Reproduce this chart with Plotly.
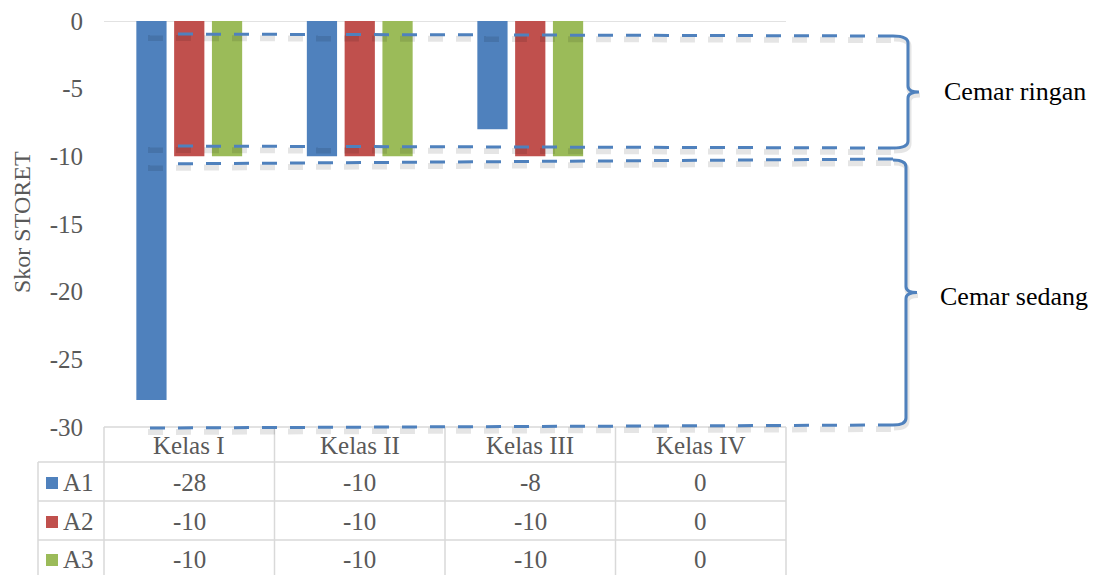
import plotly.graph_objects as go

# ---------------- data ----------------
categories = ["Kelas I", "Kelas II", "Kelas III", "Kelas IV"]
series_names = ["A1", "A2", "A3"]
a1_values = [-28, -10, -8, 0]
a2_values = [-10, -10, -10, 0]
a3_values = [-10, -10, -10, 0]
series_colors = ["#4F81BD", "#C0504D", "#9BBB59"]
y_ticks = [0, -5, -10, -15, -20, -25, -30]
band_labels = ["Cemar ringan", "Cemar sedang"]

series_values = [a1_values, a2_values, a3_values]

# ---------------- geometry helpers (pixel -> paper) ----------------
W, H = 1094, 575
PL, PR, PT, PB = 104, 786, 21, 427


def px(x):
    return (x - PL) / (PR - PL)


def py(y):
    return (PB - y) / (PB - PT)


FONT = "Liberation Serif"
GRAY = "#595959"
GRID = "#D9D9D9"
BLUE = "#4F81BD"

fig = go.Figure()
for name, vals, col in zip(series_names, series_values, series_colors):
    fig.add_trace(go.Bar(x=categories, y=vals, name=name, marker_color=col,
                         marker_line_width=0))

shapes = []
annotations = []

shapes.append(dict(type="line", xref="paper", yref="y", x0=0, x1=1, y0=0, y1=0,
                   line=dict(color=GRID, width=1.5), layer="below"))

# ---------------- data table below the chart ----------------
row_tops = [427, 462, 501, 540, 580]
n = len(categories)
shapes.append(dict(type="line", xref="paper", yref="paper", x0=0, x1=1,
                   y0=py(row_tops[0]), y1=py(row_tops[0]), line=dict(color=GRID, width=1.5)))
for r in row_tops[1:4]:
    shapes.append(dict(type="line", xref="paper", yref="paper", x0=px(38), x1=1,
                       y0=py(r), y1=py(r), line=dict(color=GRID, width=1.5)))
for i in range(n + 1):
    shapes.append(dict(type="line", xref="paper", yref="paper", x0=i / n, x1=i / n,
                       y0=py(row_tops[0]), y1=py(row_tops[-1]), line=dict(color=GRID, width=1.5)))
shapes.append(dict(type="line", xref="paper", yref="paper", x0=px(38), x1=px(38),
                   y0=py(row_tops[1]), y1=py(row_tops[-1]), line=dict(color=GRID, width=1.5)))

TABLE_SIZE = 25
for i, c in enumerate(categories):
    annotations.append(dict(text=c, xref="paper", yref="paper", x=(i + 0.5) / n,
                            y=py((row_tops[0] + row_tops[1]) / 2 + 1), showarrow=False,
                            xanchor="center", yanchor="middle",
                            font=dict(family=FONT, size=TABLE_SIZE, color=GRAY)))
row_centers = [482, 521, 559]
for name, vals, col, yc in zip(series_names, series_values, series_colors, row_centers):
    shapes.append(dict(type="rect", xref="paper", yref="paper", x0=px(46), x1=px(58),
                       y0=py(yc - 5), y1=py(yc + 7), fillcolor=col, line=dict(width=0)))
    annotations.append(dict(text=name, xref="paper", yref="paper", x=px(61), y=py(yc),
                            showarrow=False, xanchor="left", yanchor="middle",
                            font=dict(family=FONT, size=TABLE_SIZE, color=GRAY)))
    for i, v in enumerate(vals):
        annotations.append(dict(text=str(v), xref="paper", yref="paper", x=(i + 0.5) / n,
                                y=py(yc), showarrow=False, xanchor="center", yanchor="middle",
                                font=dict(family=FONT, size=TABLE_SIZE, color=GRAY)))

# ---------------- dashed band lines with soft shadow ----------------
dash_lines = [  # (x0, y0, x1, y1) in pixels
    (150, 34, 894, 36),
    (150, 146, 894, 148),
    (150, 164, 894, 159),
    (150, 428, 894, 425),
]
for (x0, y0, x1, y1) in dash_lines:
    shapes.append(dict(type="line", xref="paper", yref="paper",
                       x0=px(x0 - 2), y0=py(y0 + 4), x1=px(x1 - 2), y1=py(y1 + 4),
                       line=dict(color="rgba(0,0,0,0.10)", width=6, dash="15px,13px")))
    shapes.append(dict(type="line", xref="paper", yref="paper",
                       x0=px(x0), y0=py(y0), x1=px(x1), y1=py(y1),
                       line=dict(color=BLUE, width=3, dash="15px,13px")))


def brace(xs, top, bot, xv, tip, dx=0, dy=0):
    mid = (top + bot) / 2
    pts = [
        ("M", [(xs, top)]),
        ("Q", [(xv, top), (xv, top + 7)]),
        ("L", [(xv, mid - 6)]),
        ("Q", [(xv, mid), (tip, mid)]),
        ("Q", [(xv, mid), (xv, mid + 6)]),
        ("L", [(xv, bot - 7)]),
        ("Q", [(xv, bot), (xs, bot)]),
    ]
    s = ""
    for cmd, coords in pts:
        s += cmd + " " + " ".join(f"{px(a + dx):.5f},{py(b + dy):.5f}" for a, b in coords) + " "
    return s.strip()


braces = [(893, 36, 148, 908, 919), (893, 160, 425, 906, 917)]
for (xs, top, bot, xv, tip) in braces:
    shapes.append(dict(type="path", xref="paper", yref="paper",
                       path=brace(xs, top, bot, xv, tip, dx=1, dy=3),
                       line=dict(color="rgba(0,0,0,0.10)", width=5)))
    shapes.append(dict(type="path", xref="paper", yref="paper",
                       path=brace(xs, top, bot, xv, tip),
                       line=dict(color=BLUE, width=3)))

label_pos = [(942, 92), (938, 296)]
for txt, (lx, ly) in zip(band_labels, label_pos):
    annotations.append(dict(text=txt, xref="paper", yref="paper", x=px(lx), y=py(ly),
                            showarrow=False, xanchor="left", yanchor="middle",
                            font=dict(family=FONT, size=26, color="#000000")))

annotations.append(dict(text="Skor STORET", xref="paper", yref="paper", x=px(22), y=py(222),
                        showarrow=False, textangle=-90, xanchor="center", yanchor="middle",
                        font=dict(family=FONT, size=24, color=GRAY)))

fig.update_layout(
    width=W, height=H,
    margin=dict(l=PL, r=W - PR, t=PT, b=H - PB, autoexpand=False),
    paper_bgcolor="white", plot_bgcolor="white",
    barmode="group", bargap=0.335, bargroupgap=0.2,
    showlegend=False,
    shapes=shapes, annotations=annotations,
    xaxis=dict(type="category", showticklabels=False, showgrid=False, zeroline=False,
               showline=False, range=[-0.5, 3.5], fixedrange=True),
    yaxis=dict(range=[-30, 0], tickvals=y_ticks, ticktext=[str(t) for t in y_ticks],
               showgrid=False, zeroline=False, showline=False,
               tickfont=dict(family=FONT, size=25, color=GRAY),
               ticks="", ticklabelstandoff=20, automargin=False),
)

fig.write_html("out.html", config={"displayModeBar": False})
